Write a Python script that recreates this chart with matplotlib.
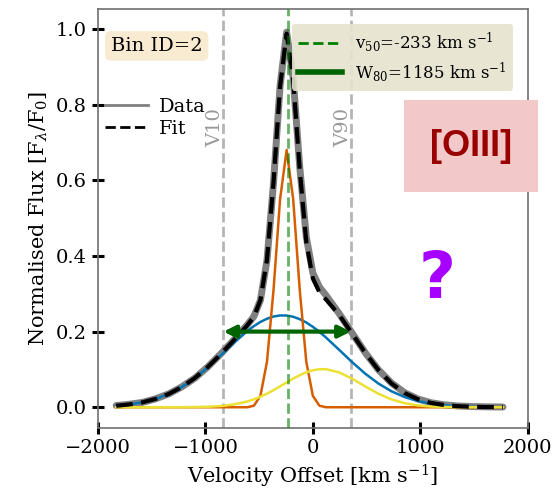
import matplotlib
matplotlib.use("Agg")
import matplotlib.pyplot as plt
from matplotlib.lines import Line2D
from matplotlib.patches import Rectangle

plt.rcParams['font.family'] = ['DejaVu Serif']
plt.rcParams['mathtext.fontset'] = 'dejavuserif'

# velocity grid [km/s]
velocity = [-1831, -1709, -1587, -1465, -1343, -1221, -1099, -977, -855, -733,
            -611, -550, -489, -428, -367, -306, -245, -184, -123, -62,
            -1, 60, 121, 243, 365, 487, 609, 731, 853, 975,
            1097, 1219, 1341, 1463, 1585, 1707, 1768]

# broad component (blue)
comp_broad = [0.0039, 0.0073, 0.0130, 0.0219, 0.0350, 0.0532, 0.0769, 0.1056, 0.1379, 0.1709,
              0.2014, 0.2144, 0.2255, 0.2340, 0.2399, 0.2427, 0.2425, 0.2392, 0.2329, 0.2240,
              0.2126, 0.1993, 0.1844, 0.1520, 0.1191, 0.0886, 0.0627, 0.0421, 0.0269, 0.0163,
              0.0094, 0.0052, 0.0027, 0.0013, 0.0006, 0.0003, 0.0002]

# narrow component (orange)
comp_narrow = [0.0, 0.0, 0.0, 0.0, 0.0, 0.0, 0.0, 0.0, 0.0, 0.0,
               0.0, 0.004, 0.03, 0.12, 0.31, 0.55, 0.68, 0.55, 0.31, 0.12,
               0.03, 0.004, 0.0, 0.0, 0.0, 0.0, 0.0, 0.0, 0.0, 0.0,
               0.0, 0.0, 0.0, 0.0, 0.0, 0.0, 0.0]

# redshifted component (yellow)
comp_red = [0.0, 0.0, 0.0, 0.0, 0.0, 0.0001, 0.0004, 0.0012, 0.0032, 0.0074,
            0.0152, 0.0208, 0.0277, 0.0359, 0.0451, 0.0552, 0.0655, 0.0756, 0.0848, 0.0924,
            0.0978, 0.1006, 0.1006, 0.0923, 0.0754, 0.0550, 0.0357, 0.0207, 0.0107, 0.0049,
            0.0020, 0.0007, 0.0002, 0.0001, 0.0, 0.0, 0.0]

# total fit
fit_total = [0.0039, 0.0073, 0.0130, 0.0219, 0.0350, 0.0533, 0.0773, 0.1068, 0.1411, 0.1783,
             0.2166, 0.2392, 0.2832, 0.3899, 0.5950, 0.8479, 0.9880, 0.8648, 0.6277, 0.4364,
             0.3404, 0.3039, 0.2850, 0.2443, 0.1945, 0.1436, 0.0984, 0.0628, 0.0376, 0.0212,
             0.0114, 0.0059, 0.0029, 0.0014, 0.0006, 0.0003, 0.0002]

# observed data
flux_data = [0.0045, 0.0078, 0.0128, 0.0222, 0.0352, 0.0538, 0.0770, 0.1072, 0.1420, 0.1790,
             0.2180, 0.2400, 0.2830, 0.3880, 0.5930, 0.8500, 0.9920, 0.8700, 0.6350, 0.4500,
             0.3550, 0.3180, 0.2960, 0.2480, 0.1960, 0.1440, 0.0990, 0.0640, 0.0385, 0.0220,
             0.0120, 0.0065, 0.0035, 0.0020, 0.0012, 0.0008, 0.0006]

v10 = -833
v50 = -233
v90 = 352
w80 = 1185
bin_id = 2

fig = plt.figure(figsize=(5.55, 4.92), dpi=100)
ax = fig.add_axes([0.1766, 0.130, 0.7746, 0.8517])

ax.plot(velocity, flux_data, color='gray', lw=5, solid_capstyle='round', zorder=1)
ax.plot(velocity, comp_broad, color='#0173B2', lw=1.8, zorder=2)
ax.plot(velocity, comp_narrow, color='#D55E00', lw=1.8, zorder=2)
ax.plot(velocity, comp_red, color='#ECE133', lw=1.8, zorder=2)
ax.plot(velocity, fit_total, color='black', lw=3, ls=(0, (4, 2)), zorder=3)

ax.axvline(v10, color='#b5b5b5', lw=2, ls='--', zorder=0)
ax.axvline(v90, color='#b5b5b5', lw=2, ls='--', zorder=0)
ax.axvline(v50, color='green', alpha=0.6, lw=2, ls='--', zorder=4)

ax.annotate('', xy=(v10, 0.2), xytext=(v90, 0.2),
            arrowprops=dict(arrowstyle='<|-|>', color='darkgreen', lw=3,
                            mutation_scale=18, shrinkA=0, shrinkB=0), zorder=5)

ax.text(v10 + 10, 0.74, 'V10', rotation=90, ha='right', va='center', color='#999999', fontsize=14)
ax.text(v90 + 10, 0.74, 'V90', rotation=90, ha='right', va='center', color='#999999', fontsize=14)

ax.text(0.03, 0.912, f'Bin ID={bin_id}', transform=ax.transAxes, fontsize=14, va='center',
        bbox=dict(boxstyle='round,pad=0.3', facecolor='wheat', edgecolor='none', alpha=0.6))

data_handles = [Line2D([], [], color='gray', lw=2),
                Line2D([], [], color='black', lw=2, ls='--')]
leg1 = ax.legend(data_handles, ['Data', 'Fit'], loc='upper left', bbox_to_anchor=(-0.025, 0.83),
                 frameon=False, fontsize=14, handlelength=2.2, handletextpad=0.6,
                 labelspacing=0.2)
ax.add_artist(leg1)

vel_handles = [Line2D([], [], color='green', lw=2, ls='--'),
               Line2D([], [], color='darkgreen', lw=4)]
ax.legend(vel_handles, [r'v$_{50}$=%d km s$^{-1}$' % v50, r'W$_{80}$=%d km s$^{-1}$' % w80],
          loc='upper right', bbox_to_anchor=(0.985, 0.985), fontsize=12,
          facecolor='#e6e4cf', edgecolor='none', framealpha=0.9, fancybox=True,
          handlelength=2.6, handletextpad=0.8, labelspacing=0.35)

fig.patches.append(Rectangle((0.728, 0.6098), 0.2414, 0.187, transform=fig.transFigure,
                             facecolor='#f3c8c8', edgecolor='none', zorder=10))
fig.text(0.849, 0.703, '[OIII]', ha='center', va='center', color='#990000', fontsize=26,
         fontweight='bold', family='Liberation Sans', zorder=11)
fig.text(0.787, 0.431, '?', ha='center', va='center', color='#a600ff', fontsize=46,
         fontweight='bold', family='DejaVu Sans')

ax.set_xlim(-2000, 2000)
ax.set_ylim(-0.055, 1.053)
ax.set_xticks([-2000, -1000, 0, 1000, 2000])
ax.set_yticks([0.0, 0.2, 0.4, 0.6, 0.8, 1.0])
ax.tick_params(direction='inout', length=9, width=2.2, color='black', labelsize=14)
for sp in ax.spines.values():
    sp.set_color('#707070')
    sp.set_linewidth(1.2)

ax.set_xlabel(r'Velocity Offset [km s$^{-1}$]', fontsize=15)
ax.set_ylabel(r'Normalised Flux [F$_\lambda$/F$_0$]', fontsize=15)

plt.savefig('out.png', dpi=100)
